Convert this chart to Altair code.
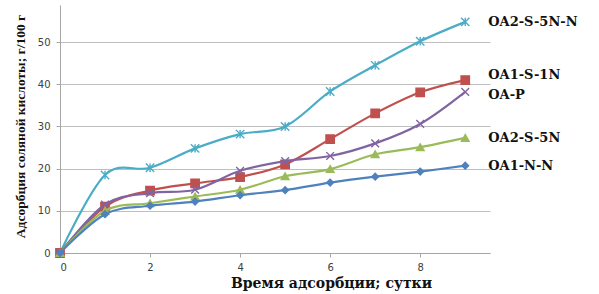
import altair as alt
import pandas as pd

days = [0, 1, 2, 3, 4, 5, 6, 7, 8, 9]
series_names = ["OA2-S-5N-N", "OA1-S-1N", "OA-P", "OA2-S-5N", "OA1-N-N"]
oa2_s_5n_n = [0, 18.5, 20.2, 24.8, 28.2, 30.0, 38.3, 44.5, 50.2, 54.8]
oa1_s_1n = [0, 11.0, 14.8, 16.5, 18.0, 21.0, 27.0, 33.1, 38.1, 41.0]
oa_p = [0, 11.5, 14.2, 15.0, 19.5, 21.8, 23.0, 26.0, 30.6, 38.2]
oa2_s_5n = [0, 10.0, 11.8, 13.4, 15.0, 18.2, 19.9, 23.4, 25.1, 27.3]
oa1_n_n = [0, 9.2, 11.2, 12.2, 13.7, 14.9, 16.7, 18.1, 19.3, 20.7]
values = [oa2_s_5n_n, oa1_s_1n, oa_p, oa2_s_5n, oa1_n_n]

x_ticks = [0, 2, 4, 6, 8]
y_ticks = [0, 10, 20, 30, 40, 50]

colors = ["#4bacc6", "#c0504d", "#8064a2", "#9bbb59", "#4f81bd"]
shapes = [
    "M-1,-1L1,1M-1,1L1,-1M0,-1L0,1",
    "square",
    "M-1,-1L1,1M-1,1L1,-1",
    "triangle-up",
    "diamond",
]
sizes = [70, 70, 60, 60, 45]
label_dy = [0, -5, 3, 0, 0]

xs = alt.Scale(domain=[0, 9.55], nice=False, zero=False)
ys = alt.Scale(domain=[0, 58.8], nice=False)

axis_common = dict(
    labelFont="DejaVu Sans", labelFontSize=10, labelColor="#404040",
    domainColor="#a6a6a6", tickColor="#a6a6a6", tickSize=4,
    titleFontWeight="bold", titleColor="#111111",
)
x_axis = alt.Axis(
    values=x_ticks, grid=False, title="Время адсорбции; сутки",
    titleFont="DejaVu Serif", titleFontSize=14,
    titleX=271, titleY=30, titleBaseline="middle",
    titleAlign="center", labelPadding=5, **axis_common)
y_axis = alt.Axis(
    values=y_ticks, grid=True, gridColor="#bfbfbf",
    title="Адсорбция соляной кислоты; г/100 г",
    titleFont="Liberation Serif", titleFontSize=13.5,
    titleX=-40, titleY=121, titleAngle=270,
    titleBaseline="middle", titleAlign="center", labelPadding=6,
    **axis_common)

def X():
    return alt.X("x:Q", scale=xs, axis=x_axis)

def Y():
    return alt.Y("y:Q", scale=ys, axis=y_axis)

layers = []
for i, name in enumerate(series_names):
    df = pd.DataFrame({"x": days, "y": values[i]})
    line = alt.Chart(df).mark_line(
        color=colors[i], strokeWidth=2.2, interpolate="cardinal"
    ).encode(x=X(), y=Y())
    pts = alt.Chart(df).mark_point(
        shape=shapes[i], size=sizes[i], filled=False, opacity=1,
        stroke=colors[i], fill=colors[i], strokeWidth=1.4
    ).encode(x=X(), y=Y())
    lab_df = pd.DataFrame({"x": [days[-1]], "y": [values[i][-1]], "t": [name]})
    lab = alt.Chart(lab_df).mark_text(
        align="left", baseline="middle", dx=23, dy=label_dy[i],
        font="DejaVu Serif", fontWeight="bold", fontSize=13,
        color="#111111"
    ).encode(x=X(), y=Y(), text="t:N")
    layers += [line, pts, lab]

chart = alt.layer(*layers).properties(
    width=430, height=248,
    autosize=alt.AutoSizeParams(type="none"),
    padding={"left": 60, "top": 5, "right": 109, "bottom": 41},
    background="white",
).configure_view(stroke=None)

chart.save("out.html", embed_options={"renderer": "svg", "actions": False})
